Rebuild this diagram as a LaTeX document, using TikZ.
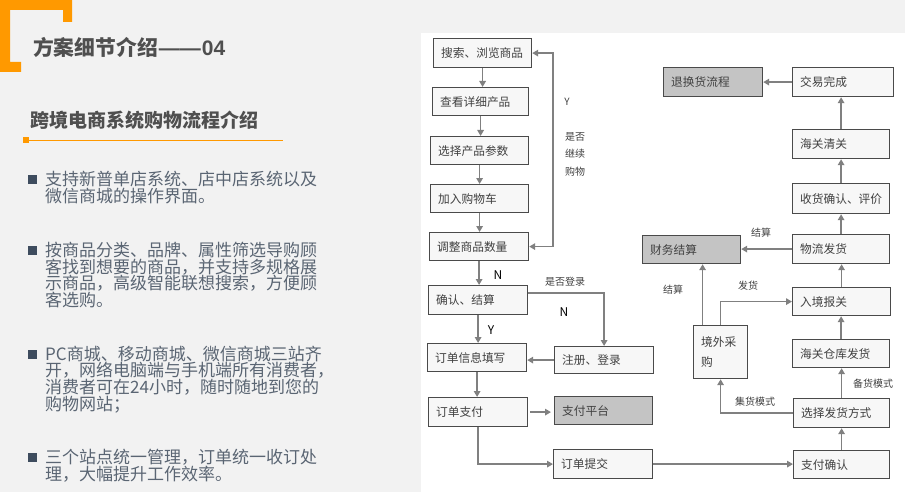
\documentclass[tikz,border=0pt]{standalone}
\usepackage{fontspec}
\setmainfont{Noto Sans CJK SC}
\newfontfamily\latinbold{Liberation Sans}
\usetikzlibrary{arrows.meta,calc}
\definecolor{bg}{HTML}{F2F2F2}
\definecolor{org}{HTML}{FF9900}
\definecolor{ttl}{HTML}{4F4F4F}
\definecolor{btxt}{HTML}{5A6573}
\definecolor{bsq}{HTML}{3E4C5E}
\definecolor{bd}{HTML}{4A4A4A}
\definecolor{bx}{HTML}{F7F7F7}
\definecolor{gbx}{HTML}{C4C4C4}
\definecolor{ln}{HTML}{808080}
\definecolor{lbl}{HTML}{404040}
\newcommand{\bx}[7]{\node[#1,minimum width=#5pt,minimum height=#6pt,label={[txt]west:#7}] (#2) at (#3,#4) {};}
\begin{document}
\begin{tikzpicture}[x=1pt,y=-1pt,
 box/.style={draw=bd,fill=bx,line width=1.2pt,anchor=north west,inner sep=0pt},
 gbox/.style={box,fill=gbx},
 txt/.style={anchor=west,inner sep=0pt,xshift=8pt,font=\fontsize{11.7pt}{20pt}\selectfont,text=lbl},
 arr/.style={draw=ln,line width=1.6pt,-{Triangle[length=6pt,width=6.5pt]}},
 arr2/.style={draw=ln,line width=1.6pt,{Triangle[length=6pt,width=6.5pt]}-{Triangle[length=6pt,width=6.5pt]}},
 note/.style={inner sep=0pt,font=\fontsize{10pt}{12pt}\selectfont,text=lbl},
 yn/.style={inner sep=0pt,font=\fontsize{12pt}{14pt}\selectfont,text=black},
 bul/.style={anchor=north west,inner sep=0pt,align=left,text=btxt,font=\fontsize{17pt}{16.7pt}\selectfont},
 bsqr/.style={fill=bsq}]
\path[use as bounding box] (0,0) rectangle (905,492);
\fill[bg] (0,0) rectangle (905,492);
\fill[white] (421,33) rectangle (905,492);
% left panel
\fill[org] (0,0) -- (72,0) -- (72,22) -- (63,22) -- (63,10) -- (10,10) -- (10,62) -- (21,62) -- (21,72) -- (0,72) -- cycle;
\node[anchor=west,inner sep=0pt,font=\bfseries\fontsize{20.8pt}{24pt}\selectfont,text=ttl] (title) at (33,47) {方案细节介绍{\latinbold\bfseries\fontsize{21pt}{24pt}\selectfont\kern1pt——\kern1pt 04}};
\node[anchor=west,inner sep=0pt,font=\bfseries\fontsize{19pt}{22pt}\selectfont,text=ttl] (sub) at (30,120) {跨境电商系统购物流程介绍};
\fill[org] (23.3,136.7) rectangle (29.3,142.7);
\draw[org,line width=0.9pt] (26,140.5) -- (283,140.5);
\fill[bsqr] (28,175) rectangle (37,184);
\fill[bsqr] (28,246) rectangle (37,255);
\fill[bsqr] (28,350) rectangle (37,359);
\fill[bsqr] (28,452.5) rectangle (37,461.5);
\node[bul] (b1) at (45,171) {支持新普单店系统、店中店系统以及\\微信商城的操作界面。};
\node[bul] (b2) at (45,242) {按商品分类、品牌、属性筛选导购顾\\客找到想要的商品，并支持多规格展\\示商品，高级智能联想搜索，方便顾\\客选购。};
\node[bul] (b3) at (45,345.5) {PC商城、移动商城、微信商城三站齐\\开，网络电脑端与手机端所有消费者，\\消费者可在24小时，随时随地到您的\\购物网站；};
\node[bul] (b4) at (45,449) {三个站点统一管理，订单统一收订处\\理，大幅提升工作效率。};
% flowchart boxes
\bx{box}{s1}{433}{38}{98}{29}{搜索、浏览商品}
\bx{box}{s2}{432}{87}{96}{28}{查看详细产品}
\bx{box}{s3}{430}{136}{98}{28}{选择产品参数}
\bx{box}{s4}{430}{184}{98}{28}{加入购物车}
\bx{box}{s5}{429}{232}{99}{28}{调整商品数量}
\bx{box}{s6}{428}{285}{99}{29}{确认、结算}
\bx{box}{s7}{427}{343}{99}{28}{订单信息填写}
\bx{box}{s8}{428}{397}{99}{29}{订单支付}
\bx{box}{r1}{554}{346}{99}{27}{注册、登录}
\bx{gbox}{r2}{554}{396}{98}{28}{支付平台}
\bx{box}{r3}{553}{449}{99}{29}{订单提交}
\bx{gbox}{t1}{663}{67}{99}{29}{退换货流程}
\bx{box}{t2}{792}{67}{101}{29}{交易完成}
\bx{box}{t3}{792}{129}{97}{29}{海关清关}
\bx{box}{t4}{792}{183}{97}{30}{收货确认、评价}
\bx{box}{t5}{792}{234}{97}{29}{物流发货}
\bx{gbox}{t6}{642}{235}{98}{28}{财务结算}
\bx{box}{t7}{792}{287}{98}{28}{入境报关}
\node[box,minimum width=54pt,minimum height=53pt,label={[txt,align=left]west:{境外采\\购}}] (t8) at (693,325) {};
\bx{box}{t9}{792}{339}{97}{28}{海关仓库发货}
\bx{box}{t10}{793}{398}{96}{29}{选择发货方式}
\bx{box}{t11}{793}{450}{96}{28}{支付确认}
% connectors
\draw[arr] (s1.south) -- (s1.south |- s2.north);
\draw[arr] (s2.south) -- (s2.south |- s3.north);
\draw[arr] (s3.south) -- (s3.south |- s4.north);
\draw[arr] (s4.south) -- (s4.south |- s5.north);
\draw[arr] (s5.south) -- (s5.south |- s6.north);
\draw[arr] (s6.south) -- (s6.south |- s7.north);
\draw[arr] (s7.south) -- (s7.south |- s8.north);
\coordinate (lp) at (553,150);
\draw[arr2] (s5.east) -- (lp |- s5.east) -- (lp |- s1.east) -- (s1.east);
\draw[arr] ([yshift=7pt]s6.east) -| (r1.north);
\draw[arr] (r1.west) -- (r1.west -| s7.east);
\draw[arr] ([xshift=2pt]s8.east) -- ([xshift=-3pt]s8.east -| r2.west);
\draw[arr] (s8.south) |- (r3.west);
\draw[arr] (r3.east) -- (r3.east -| t11.west);
\draw[arr] (t11.north) -- (t11.north |- t10.south);
\draw[arr] (t10.north) -- (t10.north |- t9.south);
\draw[arr] (t9.north) -- (t9.north |- t7.south);
\draw[arr] (t7.north) -- (t7.north |- t5.south);
\draw[arr] (t5.north) -- (t5.north |- t4.south);
\draw[arr] (t4.north) -- (t4.north |- t3.south);
\draw[arr] (t3.north) -- (t3.north |- t2.south);
\draw[arr] (t2.west) -- (t2.west -| t1.east);
\draw[arr] (t5.west) -- (t5.west -| t6.east);
\draw[arr] (t10.west) -| (t8.south);
\draw[arr] (t8.north) |- (t7.west);
\draw[arr] ([xshift=-18pt]t8.north) -- ([xshift=-18pt]t8.north |- t6.south);
% labels
\node[note] (ly1) at (567,102) {Y};
\node[note,align=left,font=\fontsize{10pt}{17.5pt}\selectfont] (lgo) at (575,154) {是否\\继续\\购物};
\node[yn] (ln1) at (498,275) {N};
\node[yn] (ly2) at (491,330) {Y};
\node[note] (llog) at (565,282) {是否登录};
\node[yn] (ln2) at (564,312) {N};
\node[note] (ljs1) at (761,233) {结算};
\node[note] (ljs2) at (673,290) {结算};
\node[note] (lfh) at (748,286) {发货};
\node[note] (ljh) at (755,402) {集货模式};
\node[note] (lbh) at (873,384) {备货模式};
\end{tikzpicture}
\end{document}
